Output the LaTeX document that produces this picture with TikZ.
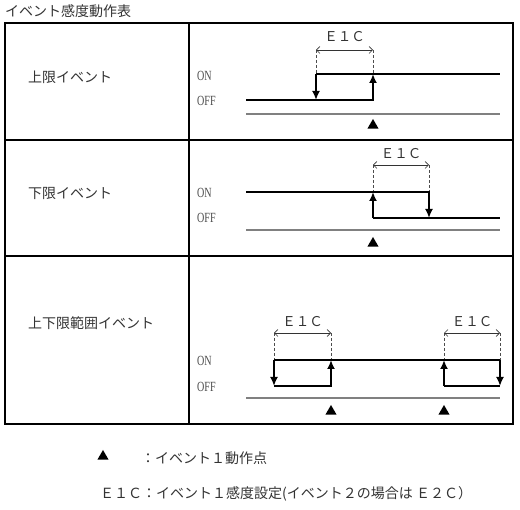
\documentclass[tikz,border=0pt]{standalone}
\usepackage{fontspec}
\setmainfont{Noto Sans CJK JP}
\newfontfamily\onofffont[FakeStretch=0.72]{Liberation Serif}
\usetikzlibrary{arrows.meta,shapes.geometric}
\tikzset{
  frame/.style={line width=1.8pt, black},
  jp/.style={font=\fontsize{14}{16}\selectfont, text=black!80, inner sep=0pt, anchor=west},
  elabel/.style={font=\fontsize{13.5}{15}\selectfont, text=black!80, inner sep=0pt},
  lvl/.style={font=\onofffont\fontsize{14}{16}\selectfont, text=black!70, inner sep=0pt, anchor=west},
  sig/.style={line width=2.8pt, black, line join=miter},
  sigarrow/.style={sig, -{Latex[length=9pt,width=8pt]}},
  guide/.style={line width=0.7pt, black!70, dash pattern=on 3pt off 2pt},
  span/.style={line width=0.6pt, black!80, {Straight Barb[length=3.5pt,width=7pt]}-{Straight Barb[length=3.5pt,width=7pt]}},
  base/.style={line width=1.3pt, black!50},
  tri/.style={regular polygon, regular polygon sides=3, fill=black, draw=none, minimum size=13pt, inner sep=0pt}
}
\begin{document}
\begin{tikzpicture}[x=1pt,y=-1pt]
\useasboundingbox (0,0) rectangle (520,510);
% title
\node[jp] (title) at (5,11) {イベント感度動作表};
% table
\draw[frame] (5,23) rectangle (513,424);
\draw[frame] (189,23) -- (189,424);
\draw[frame] (5,140) -- (513,140);
\draw[frame] (5,256) -- (513,256);
% row labels
\node[jp] (lab1) at (28,77) {上限イベント};
\node[jp] (lab2) at (28,193) {下限イベント};
\node[jp] (lab3) at (28,323) {上下限範囲イベント};
% level labels
\node[lvl] (on1) at (197,76) {ON};
\node[lvl] (off1) at (197,101) {OFF};
\node[lvl] (on2) at (197,193) {ON};
\node[lvl] (off2) at (197,218) {OFF};
\node[lvl] (on3) at (197,361) {ON};
\node[lvl] (off3) at (197,387) {OFF};

% ---------- row 1 ----------
\coordinate (a1) at (246,100);
\coordinate (a2) at (373,100);
\coordinate (a3) at (373,74);
\coordinate (a4) at (316,74);
\coordinate (a5) at (500,74);
\coordinate (a6) at (316,100);
\coordinate (a7) at (316,50);
\coordinate (a8) at (373,50);
\draw[guide] (a7) -- (a4);
\draw[guide] (a8) -- (a3);
\draw[span] (a7) -- (a8);
\node[elabel] (e1) at (344.5,37) {Ｅ１Ｃ};
\draw[sig] (a4) -- (a5);
\draw[sigarrow] (a1) -- (a2) -- (a3);
\draw[sigarrow] (a4) -- (a6);
\coordinate (g1a) at (246,114);
\coordinate (g1b) at (500,114);
\draw[base] (g1a) -- (g1b);
\node[tri] (t1) at (373,125.5) {};

% ---------- row 2 ----------
\coordinate (b1) at (246,192);
\coordinate (b2) at (429,192);
\coordinate (b3) at (429,218);
\coordinate (b4) at (373,218);
\coordinate (b5) at (500,218);
\coordinate (b6) at (373,192);
\coordinate (b7) at (373,165);
\coordinate (b8) at (429,165);
\draw[guide] (b7) -- (b6);
\draw[guide] (b8) -- (b2);
\draw[span] (b7) -- (b8);
\node[elabel] (e2) at (401,154) {Ｅ１Ｃ};
\draw[sig] (b4) -- (b5);
\draw[sigarrow] (b1) -- (b2) -- (b3);
\draw[sigarrow] (b4) -- (b6);
\coordinate (g2a) at (246,230);
\coordinate (g2b) at (500,230);
\draw[base] (g2a) -- (g2b);
\node[tri] (t2) at (373,243.5) {};

% ---------- row 3 ----------
\coordinate (c1) at (274,360);
\coordinate (c2) at (500,360);
\coordinate (c3) at (274,386);
\coordinate (c4) at (331,386);
\coordinate (c5) at (331,360);
\coordinate (c6) at (444,386);
\coordinate (c7) at (500,386);
\coordinate (c8) at (444,360);
\coordinate (d1) at (274,333);
\coordinate (d2) at (331,333);
\coordinate (d3) at (444,333);
\coordinate (d4) at (500,333);
\draw[guide] (d1) -- (c1);
\draw[guide] (d2) -- (c5);
\draw[guide] (d3) -- (c8);
\draw[guide] (d4) -- (c2);
\draw[span] (d1) -- (d2);
\draw[span] (d3) -- (d4);
\node[elabel] (e3) at (302.5,322) {Ｅ１Ｃ};
\node[elabel] (e4) at (472,322) {Ｅ１Ｃ};
\draw[sig] (c1) -- (c2);
\draw[sig] (c6) -- (c7);
\draw[sigarrow] (c1) -- (c3);
\draw[sigarrow] (c3) -- (c4) -- (c5);
\draw[sigarrow] (c6) -- (c8);
\draw[sigarrow] (c2) -- (c7);
\coordinate (g3a) at (246,398);
\coordinate (g3b) at (500,398);
\draw[base] (g3a) -- (g3b);
\node[tri] (t3) at (331,411.5) {};
\node[tri] (t4) at (444,411.5) {};

% ---------- legend ----------
\node[tri] (lt) at (103,456.5) {};
\node[jp] (l1) at (141,458) {：イベント１動作点};
\node[jp] (l2) at (100,494) {Ｅ１Ｃ：イベント１感度設定(イベント２の場合は Ｅ２Ｃ）};
\end{tikzpicture}
\end{document}
